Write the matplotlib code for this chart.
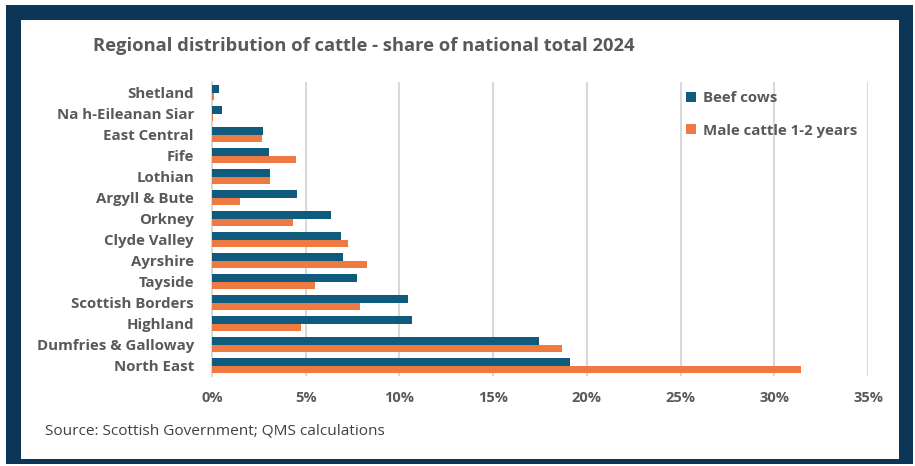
import matplotlib
matplotlib.use("Agg")
import matplotlib.pyplot as plt
from matplotlib.patches import Rectangle
from matplotlib.ticker import FuncFormatter
import numpy as np

regions = ["Shetland", "Na h-Eileanan Siar", "East Central", "Fife", "Lothian",
           "Argyll & Bute", "Orkney", "Clyde Valley", "Ayrshire", "Tayside",
           "Scottish Borders", "Highland", "Dumfries & Galloway", "North East"]
beef_cows = [0.39, 0.56, 2.74, 3.05, 3.12, 4.52, 6.36, 6.86, 6.99, 7.72,
             10.47, 10.68, 17.42, 19.11]
male_cattle = [0.13, 0.07, 2.67, 4.50, 3.12, 1.49, 4.34, 7.26, 8.28, 5.48,
               7.89, 4.73, 18.67, 31.40]
x_ticks = [0, 5, 10, 15, 20, 25, 30, 35]
series_names = ["Beef cows", "Male cattle 1-2 years"]
title = "Regional distribution of cattle - share of national total 2024"
source = "Source: Scottish Government; QMS calculations"

W, H = 915, 466
NAVY = "#0c3658"
BEEF = "#0f5b7d"
MALE = "#ef7a41"
GRAY = "#595959"
FONT = "Open Sans"

plt.rcParams["font.family"] = [FONT, "DejaVu Sans"]

fig = plt.figure(figsize=(W / 100, H / 100), dpi=100)
fig.patch.set_facecolor("white")

def fx(px):
    return px / W

def fy(py):
    return 1 - py / H

# frame
fig.patches.append(Rectangle((fx(6), fy(464)), fx(913) - fx(6), fy(5) - fy(464),
                             transform=fig.transFigure, facecolor=NAVY,
                             edgecolor="none", zorder=-20))
fig.patches.append(Rectangle((fx(21), fy(459)), fx(899) - fx(21), fy(20) - fy(459),
                             transform=fig.transFigure, facecolor="white",
                             edgecolor="none", zorder=-19))

ax = fig.add_axes([fx(212), fy(376), fx(868) - fx(212), fy(82) - fy(376)])
ax.set_facecolor("none")

n = len(regions)
y = np.arange(n)
h = 0.36
ax.barh(y - h / 2, beef_cows, height=h, color=BEEF, label=series_names[0], zorder=3)
ax.barh(y + h / 2, male_cattle, height=h, color=MALE, label=series_names[1], zorder=3)

ax.set_ylim(n - 0.5, -0.5)
ax.set_xlim(0, 35)
ax.set_yticks(y)
ax.set_yticklabels(regions)
ax.set_xticks(x_ticks)
ax.xaxis.set_major_formatter(FuncFormatter(lambda v, p: f"{v:.0f}%"))

for s in ["top", "right", "bottom"]:
    ax.spines[s].set_visible(False)
ax.spines["left"].set_color("#d9d9d9")
ax.spines["left"].set_linewidth(1.5)
ax.grid(axis="x", color="#d9d9d9", linewidth=1.5, zorder=0)
ax.set_axisbelow(True)
ax.tick_params(axis="both", length=0, colors=GRAY)
ax.tick_params(axis="y", pad=13, labelsize=10.8)
ax.tick_params(axis="x", pad=11, labelsize=10.5)
for lab in ax.get_yticklabels() + ax.get_xticklabels():
    lab.set_fontweight("bold")
    lab.set_color(GRAY)

leg = ax.legend(loc="upper left", bbox_to_anchor=(fx(686), fy(91)),
                bbox_transform=fig.transFigure, frameon=False,
                handlelength=0.65, handleheight=0.65, handletextpad=0.5,
                labelspacing=1.25, borderpad=0, borderaxespad=0,
                prop={"family": FONT, "weight": "bold", "size": 10.8})
for t in leg.get_texts():
    t.set_color(GRAY)

fig.text(fx(93), fy(46), title, ha="left", va="center", fontsize=13.2,
         fontweight="bold", color=GRAY)
fig.text(fx(45), fy(431), source, ha="left", va="center", fontsize=11.1,
         color="#404040")

fig.savefig("out.png", dpi=100, facecolor="white")
